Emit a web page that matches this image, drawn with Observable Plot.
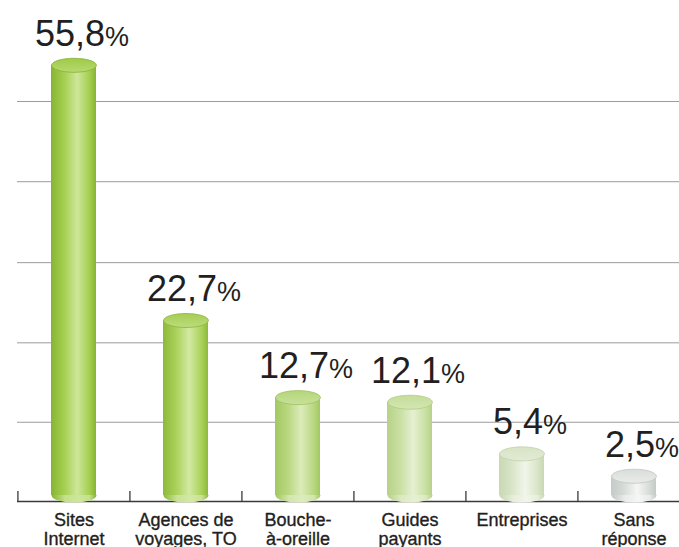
<!DOCTYPE html>
<html><head><meta charset="utf-8">
<script src="https://cdn.jsdelivr.net/npm/d3@7"></script>
<script src="https://cdn.jsdelivr.net/npm/@observablehq/plot@0.6"></script>
<style>html,body{margin:0;padding:0;background:#fff;overflow:hidden}</style>
</head><body><div id="chart"></div>
<script>
const categories = ["Sites\nInternet", "Agences de\nvoyages, TO", "Bouche-\nà-oreille", "Guides\npayants", "Entreprises", "Sans\nréponse"];
const values = [55.8, 22.7, 12.7, 12.1, 5.4, 2.5];
const valueLabels = ["55,8", "22,7", "12,7", "12,1", "5,4", "2,5"];
const gridValues = [9.5, 19.8, 30.2, 40.7, 51.1];

const palette = [
  {edge:"#86b532", mid:"#a6cf52", hi:"#cde79a", top:"#9fca48", topHi:"#b7d96f", rim:"#85b232", refl:"#c4e08a"},
  {edge:"#8dba3a", mid:"#abd25b", hi:"#d2e9a3", top:"#a6cd54", topHi:"#bddc7c", rim:"#8ab53c", refl:"#c9e295"},
  {edge:"#a3c862", mid:"#bad882", hi:"#dcecbb", top:"#b4d57b", topHi:"#c8e19a", rim:"#9fc25f", refl:"#d3e6ad"},
  {edge:"#b7d288", mid:"#c9e0a3", hi:"#e6f0d2", top:"#c4dc9a", topHi:"#d3e6b2", rim:"#b0cb84", refl:"#dbeac2"},
  {edge:"#c9d8b4", mid:"#dae5c9", hi:"#f1f6ea", top:"#d7e3c5", topHi:"#e2ebd5", rim:"#c2d0ad", refl:"#e6eedb"},
  {edge:"#c4cac5", mid:"#d8dcd9", hi:"#f5f6f5", top:"#dadedb", topHi:"#e8ebe8", rim:"#bfc5c0", refl:"#e9ecea"}
];

const data = categories.map((c, i) => ({cat: c, value: values[i], label: valueLabels[i] + "%", i}));

const RX = 22.4, RY = 7;
const ellipse = {
  draw(ctx) {
    const kx = RX * 0.5523, ky = RY * 0.5523;
    ctx.moveTo(RX, 0);
    ctx.bezierCurveTo(RX, ky, kx, RY, 0, RY);
    ctx.bezierCurveTo(-kx, RY, -RX, ky, -RX, 0);
    ctx.bezierCurveTo(-RX, -ky, -kx, -RY, 0, -RY);
    ctx.bezierCurveTo(kx, -RY, RX, -ky, RX, 0);
    ctx.closePath();
  }
};

const chart = Plot.plot({
  width: 679,
  height: 547,
  marginLeft: 17,
  marginRight: 0,
  marginTop: 0,
  marginBottom: 46,
  x: {domain: categories, range: [17, 690], paddingInner: 0.6, paddingOuter: 0.3, axis: null},
  y: {domain: [0, 10], range: [495, 417.9], axis: null},
  color: {type: "identity"},
  style: {fontFamily: "Liberation Sans, Arial, sans-serif", background: "#fff"},
  marks: [
    Plot.ruleY(gridValues, {stroke: "#9c9c9c", strokeWidth: 1}),
    Plot.ruleY([0], {dy: 6, stroke: "#3a3a3a", strokeWidth: 1.6}),
    Plot.ruleX(data, {x: "cat", y1: 0, y2: 1.3, dx: -(690 - 17) / 12, dy: 6, stroke: "#3a3a3a", strokeWidth: 1.3}),
    Plot.dot(data, {x: "cat", y: 0, symbol: ellipse, r: 1, fill: d => `url(#r${d.i})`, stroke: "none"}),
    Plot.barY(data, {x: "cat", y: "value", fill: d => `url(#b${d.i})`}),
    Plot.dot(data, {x: "cat", y: "value", symbol: ellipse, r: 1, fill: d => `url(#t${d.i})`, stroke: d => palette[d.i].rim, strokeWidth: 0.8}),
    Plot.text(data, {x: "cat", y: "value", text: "label", dx: 8, dy: -31, fontSize: 36, fill: "#231f20"}),
    Plot.text(data, {x: "cat", y: 0, text: "cat", lineAnchor: "top", dy: 16, fontSize: 18, lineHeight: 1.1, fill: "#231f20", stroke: "#231f20", strokeWidth: 0.35})
  ]
});

const svg = d3.select(chart);
const defs = svg.insert("defs", ":first-child");
palette.forEach((p, i) => {
  const b = defs.append("linearGradient").attr("id", `b${i}`).attr("x1", 0).attr("x2", 1).attr("y1", 0).attr("y2", 0);
  [[0, p.edge], [0.3, p.mid], [0.58, p.hi], [0.85, p.mid], [1, p.edge]].forEach(([o, c]) => b.append("stop").attr("offset", o).attr("stop-color", c));
  const t = defs.append("linearGradient").attr("id", `t${i}`).attr("x1", 0).attr("x2", 0).attr("y1", 0).attr("y2", 1);
  [[0, p.top], [1, p.topHi]].forEach(([o, c]) => t.append("stop").attr("offset", o).attr("stop-color", c));
  const r = defs.append("linearGradient").attr("id", `r${i}`).attr("x1", 0).attr("x2", 1).attr("y1", 0).attr("y2", 0);
  [[0, p.edge], [0.3, p.refl], [0.6, p.hi], [0.85, p.refl], [1, p.edge]].forEach(([o, c]) => r.append("stop").attr("offset", o).attr("stop-color", c));
});
const textGroups = svg.selectAll('g[aria-label="text"]').nodes();
d3.select(textGroups[0]).selectAll("text").each(function () {
  const t = d3.select(this);
  const s = t.text();
  t.text(null);
  t.append("tspan").text(s.slice(0, -1));
  t.append("tspan").attr("font-size", 27).text(s.slice(-1));
});
document.getElementById("chart").appendChild(chart);
</script>
</body></html>
